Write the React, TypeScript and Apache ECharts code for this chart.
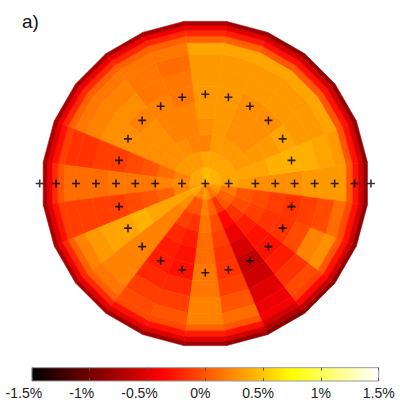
import React, { useEffect, useRef } from 'react';
import * as echarts from 'echarts';

// Angular sectors (degrees, counter-clockwise from east), each 15 degrees wide
const sectorAngles = [0, 15, 30, 45, 60, 75, 90, 105, 120, 135, 150, 165, 180, 195, 210, 225, 240, 255, 270, 285, 300, 315, 330, 345];
// Ring boundaries (normalised radius, disk edge = 1)
const ringEdges = [0, 0.1, 0.2, 0.3, 0.4, 0.5, 0.6, 0.7, 0.8, 0.87, 0.91, 0.945, 0.975, 1.0];
// Extent of the radius axis (outermost electrodes sit slightly beyond the disk)
const radiusAxisMax = 1.03;

// Values (%) per sector (rows, same order as sectorAngles), per ring from centre outwards
const cellValues: number[][] = [
  [0.4, 0.35, 0.3, 0.25, 0.25, 0.25, 0.3, 0.3, 0.3, 0.0, -0.3, -0.55, -0.85],
  [0.4, 0.35, 0.35, 0.35, 0.4, 0.4, 0.4, 0.35, 0.3, 0.0, -0.3, -0.55, -0.85],
  [0.4, 0.35, 0.3, 0.3, 0.3, 0.35, 0.3, 0.3, 0.35, 0.0, -0.3, -0.55, -0.85],
  [0.4, 0.35, 0.3, 0.25, 0.25, 0.25, 0.3, 0.3, 0.35, 0.0, -0.3, -0.55, -0.85],
  [0.4, 0.35, 0.3, 0.25, 0.25, 0.25, 0.3, 0.3, 0.35, 0.0, -0.3, -0.55, -0.85],
  [0.45, 0.35, 0.3, 0.3, 0.3, 0.3, 0.3, 0.3, 0.35, 0.05, -0.25, -0.5, -0.8],
  [0.45, 0.35, 0.2, 0.25, 0.3, 0.3, 0.3, 0.3, 0.35, 0.05, -0.2, -0.45, -0.75],
  [0.4, 0.3, 0.2, 0.2, 0.2, 0.15, 0.15, 0.1, 0.15, 0.05, -0.2, -0.45, -0.75],
  [0.35, 0.3, 0.25, 0.2, 0.2, 0.2, 0.15, 0.15, 0.15, 0.05, -0.2, -0.45, -0.75],
  [0.35, 0.3, 0.25, 0.25, 0.25, 0.2, 0.25, 0.2, 0.15, 0.05, -0.2, -0.45, -0.75],
  [0.35, 0.3, 0.25, 0.25, 0.25, 0.25, 0.25, 0.2, 0.15, 0.05, -0.2, -0.45, -0.75],
  [0.35, 0.2, 0.1, 0.0, -0.05, -0.1, -0.1, -0.15, -0.15, -0.1, -0.3, -0.5, -0.75],
  [0.35, 0.25, 0.2, 0.15, 0.15, 0.15, 0.1, 0.1, 0.1, 0.0, -0.2, -0.45, -0.75],
  [0.3, 0.2, 0.05, 0.0, -0.05, -0.1, -0.1, -0.1, -0.1, -0.1, -0.3, -0.5, -0.75],
  [0.4, 0.35, 0.35, 0.35, 0.4, 0.35, 0.35, 0.3, 0.2, 0.05, -0.2, -0.45, -0.75],
  [0.35, 0.25, 0.2, 0.2, 0.2, 0.2, 0.2, 0.2, 0.15, 0.05, -0.2, -0.45, -0.75],
  [0.2, 0.0, -0.1, -0.2, -0.25, -0.25, -0.2, -0.1, -0.05, -0.05, -0.3, -0.5, -0.8],
  [0.2, 0.0, -0.15, -0.25, -0.3, -0.3, -0.2, -0.1, 0.0, -0.05, -0.3, -0.5, -0.8],
  [0.35, 0.2, 0.15, 0.1, 0.1, 0.15, 0.15, 0.2, 0.2, 0.05, -0.25, -0.5, -0.8],
  [0.25, 0.05, -0.05, -0.1, -0.15, -0.15, -0.1, 0.0, 0.1, 0.0, -0.3, -0.55, -0.85],
  [0.1, -0.15, -0.35, -0.45, -0.55, -0.65, -0.6, -0.5, -0.45, -0.4, -0.55, -0.7, -0.9],
  [0.15, 0.0, -0.15, -0.25, -0.3, -0.3, -0.25, -0.15, -0.05, -0.1, -0.35, -0.6, -0.85],
  [0.25, 0.05, -0.05, -0.1, -0.15, -0.15, -0.05, 0.2, 0.25, 0.0, -0.3, -0.55, -0.85],
  [0.3, 0.15, 0.0, -0.05, -0.1, -0.15, -0.1, -0.05, 0.1, -0.05, -0.3, -0.55, -0.85],
];

// Marker ("+") positions
const arcAngles = [15, 30, 45, 60, 75, 90, 105, 120, 135, 150, 165, 195, 210, 225, 240, 255, 270, 285, 300, 315, 330, 345];
const arcRadius = 0.546;
const rowAngles = [0, 180];
const rowRadii = [0.143, 0.306, 0.428, 0.546, 0.669, 0.791, 0.913, 1.013];

// Colour bar
const colorbarTicks = [-1.5, -1, -0.5, 0, 0.5, 1, 1.5];
const hotColors = ['#000000', '#550000', '#aa0000', '#ff0000', '#ff5500', '#ffaa00', '#ffff00', '#ffff80', '#ffffff'];

const FONT = '"Liberation Sans", Arial, sans-serif';

export default function App() {
  const ref = useRef<HTMLDivElement>(null);

  useEffect(() => {
    if (!ref.current) return;
    const chart = echarts.init(ref.current, undefined, { renderer: 'svg' });

    const half = (sectorAngles[1] - sectorAngles[0]) / 2;
    const cells: number[][] = [];
    sectorAngles.forEach((a, i) => {
      for (let j = 0; j < ringEdges.length - 1; j++) {
        cells.push([a - half, a + half, ringEdges[j], ringEdges[j + 1], cellValues[i][j]]);
      }
    });

    const markers: number[][] = [[0, 0]];
    arcAngles.forEach((a) => markers.push([arcRadius, a]));
    rowAngles.forEach((a) => rowRadii.forEach((r) => markers.push([r, a])));

    const vMin = colorbarTicks[0];
    const vMax = colorbarTicks[colorbarTicks.length - 1];

    const labelStyle = (v: number) => (v < 0 ? 'neg' : v < 1 ? 'mid' : 'pos');

    chart.setOption({
      animation: false,
      backgroundColor: '#ffffff',
      title: {
        text: 'a)',
        left: 22,
        top: 12,
        padding: 0,
        textStyle: { fontSize: 19, fontWeight: 'normal', fontFamily: FONT, color: '#111' },
      },
      polar: { center: [205.3, 183.5], radius: 163.5 * radiusAxisMax },
      angleAxis: { type: 'value', min: 0, max: 360, startAngle: 0, clockwise: false, show: false },
      radiusAxis: { type: 'value', min: 0, max: radiusAxisMax, show: false },
      grid: { left: 31.9, top: 367.7, width: 346.8, height: 13.3 },
      xAxis: [
        {
          type: 'value',
          min: vMin,
          max: vMax,
          interval: 0.5,
          position: 'bottom',
          z: 10,
          axisLine: { show: false },
          splitLine: { show: false },
          axisTick: { show: true, inside: true, length: 3, lineStyle: { color: '#555', width: 1 } },
          axisLabel: {
            margin: 5,
            formatter: (v: number) => `{${labelStyle(v)}|${v}%}`,
            rich: {
              neg: { fontSize: 14, fontFamily: FONT, color: '#222', padding: [0, 16, 0, 0] },
              mid: { fontSize: 14, fontFamily: FONT, color: '#222', padding: [0, 10, 0, 0] },
              pos: { fontSize: 14, fontFamily: FONT, color: '#222' },
            },
          },
        },
        {
          type: 'value',
          min: vMin,
          max: vMax,
          interval: 0.5,
          position: 'top',
          z: 10,
          axisLine: { show: false },
          splitLine: { show: false },
          axisLabel: { show: false },
          axisTick: { show: true, inside: true, length: 3, lineStyle: { color: '#555', width: 1 } },
        },
      ],
      yAxis: { type: 'value', min: 0, max: 1, show: false },
      visualMap: {
        show: false,
        type: 'continuous',
        min: vMin,
        max: vMax,
        dimension: 4,
        seriesIndex: 0,
        inRange: { color: hotColors },
      },
      series: [
        {
          type: 'custom',
          coordinateSystem: 'polar',
          data: cells,
          renderItem: (_params: any, api: any) => {
            const a0 = api.value(0);
            const a1 = api.value(1);
            const r0 = api.value(2);
            const r1 = api.value(3);
            const pts = [api.coord([r0, a0]), api.coord([r1, a0]), api.coord([r1, a1]), api.coord([r0, a1])];
            const color = api.visual('color');
            return {
              type: 'polygon',
              shape: { points: pts },
              style: { fill: color, stroke: color, lineWidth: 0.6 },
            };
          },
        },
        {
          type: 'scatter',
          coordinateSystem: 'polar',
          data: markers,
          symbol: 'path://M3.2,0h1.6v8h-1.6z M0,3.2h8v1.6h-8z',
          symbolSize: 8,
          itemStyle: { color: '#000' },
          z: 5,
        },
        {
          type: 'custom',
          coordinateSystem: 'cartesian2d',
          xAxisIndex: 0,
          yAxisIndex: 0,
          data: [[vMin, vMax]],
          renderItem: (_params: any, api: any) => {
            const p0 = api.coord([api.value(0), 0]);
            const p1 = api.coord([api.value(1), 1]);
            const stops = hotColors.map((c, i) => ({ offset: i / (hotColors.length - 1), color: c }));
            return {
              type: 'rect',
              shape: { x: p0[0], y: p1[1], width: p1[0] - p0[0], height: p0[1] - p1[1] },
              style: {
                fill: new echarts.graphic.LinearGradient(0, 0, 1, 0, stops),
                stroke: '#9a9a9a',
                lineWidth: 1,
              },
            };
          },
        },
      ],
    });

    return () => chart.dispose();
  }, []);

  return <div ref={ref} style={{ position: 'fixed', left: 0, top: 0, width: 400, height: 409 }} />;
}
